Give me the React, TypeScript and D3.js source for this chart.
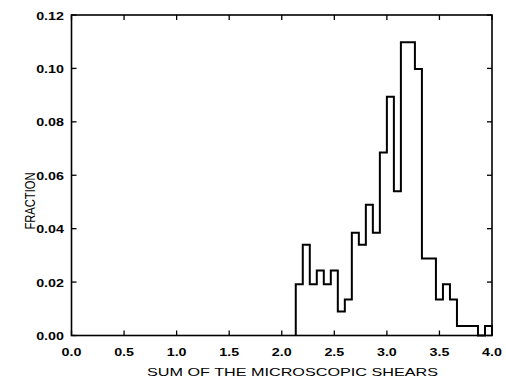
import React from "react";
import * as d3 from "d3";

// Histogram: 60 bins of width 1/15 over [0, 4]; bins before index 32 are empty.
const binCount = 60;
const binStart = 32;
const fractions = [
  0.0192, 0.034, 0.0192, 0.0243, 0.0192, 0.0243, 0.009, 0.0135, 0.0385, 0.034,
  0.049, 0.0385, 0.0685, 0.0894, 0.054, 0.1098, 0.1098, 0.0998, 0.0288, 0.0288,
  0.0135, 0.0192, 0.0135, 0.0036, 0.0036, 0.0036, 0, 0.0036,
];
const xTicks = [0, 0.5, 1, 1.5, 2, 2.5, 3, 3.5, 4];
const yTicks = [0, 0.02, 0.04, 0.06, 0.08, 0.1, 0.12];
const xTitle = "SUM OF THE MICROSCOPIC SHEARS";
const yTitle = "FRACTION";

const W = 506;
const H = 379;
const L = 71.5, R = 492, T = 15, B = 335.5;
const font = "'Liberation Sans', Arial, Helvetica, sans-serif";

export default function App() {
  const x = d3.scaleLinear().domain([0, 4]).range([L, R]);
  const y = d3.scaleLinear().domain([0, 0.12]).range([B, T]);
  const bw = 4 / binCount;

  const pts: [number, number][] = [];
  pts.push([binStart * bw, 0]);
  fractions.forEach((v, i) => {
    const x0 = (binStart + i) * bw;
    pts.push([x0, v]);
    pts.push([x0 + bw, v]);
  });
  pts.push([(binStart + fractions.length) * bw, 0]);
  const line = d3
    .line<[number, number]>()
    .x((d) => x(d[0]))
    .y((d) => y(d[1]));

  const tl = 5;
  const sx = 1.3;

  return (
    <svg
      width={W}
      height={H}
      style={{ position: "absolute", left: 0, top: 0, background: "#fff" }}
    >
      <rect x={0} y={0} width={W} height={H} fill="#fff" />
      {/* histogram */}
      <path d={line(pts) || ""} fill="none" stroke="#000" strokeWidth={2} strokeLinejoin="miter" />
      {/* frame */}
      <rect x={L} y={T} width={R - L} height={B - T} fill="none" stroke="#000" strokeWidth={1.6} />
      {/* ticks */}
      {xTicks.map((t) => (
        <g key={"xt" + t}>
          <line x1={x(t)} x2={x(t)} y1={B} y2={B - tl} stroke="#000" strokeWidth={1.3} />
          <line x1={x(t)} x2={x(t)} y1={T} y2={T + tl} stroke="#000" strokeWidth={1.3} />
          <text
            transform={`translate(${x(t)},356) scale(${sx},1)`}
            textAnchor="middle"
            fontFamily={font}
            fontWeight="bold"
            fontSize={11}
            fill="#000"
          >
            {t.toFixed(1)}
          </text>
        </g>
      ))}
      {yTicks.map((t) => (
        <g key={"yt" + t}>
          <line x1={L} x2={L + tl} y1={y(t)} y2={y(t)} stroke="#000" strokeWidth={1.3} />
          <line x1={R} x2={R - tl} y1={y(t)} y2={y(t)} stroke="#000" strokeWidth={1.3} />
          <text
            transform={`translate(64,${y(t) + 4.5}) scale(${sx},1)`}
            textAnchor="end"
            fontFamily={font}
            fontWeight="bold"
            fontSize={11}
            fill="#000"
          >
            {t.toFixed(2)}
          </text>
        </g>
      ))}
      {/* axis titles */}
      <text
        x={292.5}
        y={375.5}
        textAnchor="middle"
        fontFamily={font}
        fontSize={11.5}
        textLength={291}
        lengthAdjust="spacingAndGlyphs"
        fill="#000"
      >
        {xTitle}
      </text>
      <text
        transform={`translate(35,201) scale(1.25,1) rotate(-90)`}
        textAnchor="middle"
        fontFamily={font}
        fontSize={11.2}
        fill="#000"
      >
        {yTitle}
      </text>
    </svg>
  );
}
